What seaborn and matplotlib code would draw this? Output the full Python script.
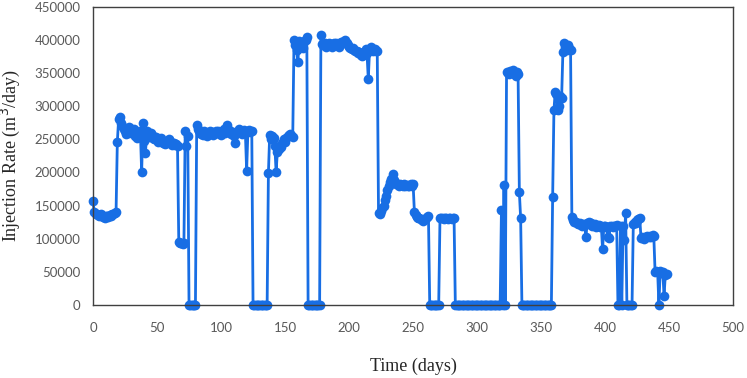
import numpy as np
import pandas as pd
import seaborn as sns
import matplotlib.pyplot as plt

# -------------------------------------------------
# DATA (daily injection rate, m3/day)
# -------------------------------------------------

rate = [
    157000, 140000, 137000, 138000, 136000, 135000, 137000, 134000, 133000, 132000,
    134000, 135000, 133000, 136000, 134000, 137000, 138000, 139000, 140000, 246000,
    280000, 283000, 275000, 270000, 265000, 262000, 258000, 260000, 268000, 263000,
    259000, 262000, 266000, 255000, 252000, 257000, 254000, 262000, 201000, 274000,
    248000, 230000, 262000, 258000, 254000, 260000, 256000, 252000, 250000, 254000,
    249000, 246000, 250000, 252000, 248000, 245000, 243000, 244000, 248000, 250000,
    247000, 245000, 242000, 244000, 241000, 243000, 240000, 95000, 93000, 94000,
    92000, 93000, 262000, 240000, 255000, 0, 0, 0, 0, 0,
    0, 272000, 265000, 262000, 258000, 260000, 256000, 262000, 259000, 255000,
    260000, 263000, 258000, 261000, 257000, 260000, 263000, 259000, 262000, 258000,
    256000, 262000, 265000, 260000, 266000, 272000, 264000, 262000, 258000, 261000,
    255000, 245000, 259000, 262000, 265000, 261000, 258000, 262000, 264000, 260000,
    203000, 262000, 264000, 261000, 263000, 0, 0, 0, 0, 0,
    0, 0, 0, 0, 0, 0, 0, 199000, 257000, 250000,
    255000, 252000, 240000, 201000, 231000, 236000, 240000, 239000, 245000, 250000,
    246000, 252000, 255000, 257000, 258000, 256000, 254000, 400000, 392000, 385000,
    366000, 398000, 390000, 395000, 388000, 398000, 400000, 405000, 0, 0,
    0, 0, 0, 0, 0, 0, 0, 0, 408000, 394000,
    392000, 395000, 390000, 393000, 396000, 392000, 394000, 390000, 395000, 392000,
    396000, 393000, 390000, 394000, 397000, 395000, 398000, 400000, 396000, 392000,
    390000, 388000, 386000, 388000, 385000, 383000, 384000, 380000, 382000, 378000,
    376000, 378000, 382000, 386000, 380000, 341000, 385000, 390000, 387000, 384000,
    386000, 383000, 384000, 139000, 138000, 142000, 146000, 150000, 158000, 165000,
    174000, 180000, 186000, 190000, 198000, 188000, 184000, 182000, 183000, 180000,
    182000, 181000, 179000, 182000, 180000, 181000, 179000, 180000, 182000, 180000,
    183000, 141000, 136000, 133000, 132000, 131000, 130000, 128000, 127000, 130000,
    132000, 133000, 134000, 0, 0, 0, 0, 0, 0, 0,
    0, 131000, 132000, 131000, 130000, 132000, 131000, 130000, 132000, 131000,
    130000, 132000, 131000, 0, 0, 0, 0, 0, 0, 0,
    0, 0, 0, 0, 0, 0, 0, 0, 0, 0,
    0, 0, 0, 0, 0, 0, 0, 0, 0, 0,
    0, 0, 0, 0, 0, 0, 0, 0, 0, 143000,
    0, 181000, 0, 352000, 350000, 348000, 353000, 351000, 355000, 349000,
    346000, 352000, 348000, 170000, 131000, 0, 0, 0, 0, 0,
    0, 0, 0, 0, 0, 0, 0, 0, 0, 0,
    0, 0, 0, 0, 0, 0, 0, 0, 0, 163500,
    294000, 322000, 318000, 295000, 300000, 315000, 312000, 382000, 395000, 390000,
    385000, 392000, 388000, 385000, 133000, 128000, 126000, 125000, 124000, 122000,
    124000, 121000, 120000, 122000, 121000, 103000, 124000, 125000, 123000, 124000,
    120000, 121000, 123000, 118000, 120000, 121000, 118000, 119000, 84000, 119000,
    120000, 118000, 103000, 101000, 119000, 120000, 118000, 119000, 120000, 121000,
    0, 0, 119000, 0, 120000, 98000, 139000, 0, 0, 0,
    0, 0, 123000, 125000, 124000, 128000, 130000, 132000, 101000, 102000,
    100000, 103000, 102000, 104000, 103000, 104000, 103000, 105000, 104000, 50000,
    52000, 50000, 0, 52000, 48000, 50000, 14000, 45000, 47000,
]
days = list(range(len(rate)))

x_ticks = list(range(0, 501, 50))
y_ticks = list(range(0, 450001, 50000))

df = pd.DataFrame({"Time": days, "Rate": rate})

# -------------------------------------------------
# PLOT
# -------------------------------------------------

sns.set_style("white")
plt.rcParams["font.family"] = ["Lato", "DejaVu Sans"]

fig = plt.figure(figsize=(7.47, 3.78), dpi=100)
ax = fig.add_axes([0.1245, 0.193, 0.857, 0.789])

line_color = "#186ee4"

sns.lineplot(
    data=df,
    x="Time",
    y="Rate",
    ax=ax,
    color=line_color,
    linewidth=2.0,
    marker="o",
    markersize=7,
    markeredgewidth=0,
    clip_on=False,
)

ax.set_xlim(0, 500)
ax.set_ylim(0, 450000)
ax.set_xticks(x_ticks)
ax.set_yticks(y_ticks)
ax.set_xticklabels([str(t) for t in x_ticks])
ax.set_yticklabels([str(t) for t in y_ticks])

ax.tick_params(axis="both", length=0, labelsize=9.5, labelcolor="#595959")
ax.tick_params(axis="x", pad=12)
ax.tick_params(axis="y", pad=9)

for s in ax.spines.values():
    s.set_visible(True)
    s.set_color("#404040")
    s.set_linewidth(1.0)

ax.set_xlabel("Time (days)", fontsize=13, family="Liberation Serif", labelpad=17)
ax.set_ylabel("Injection Rate (m$^3$/day)", fontsize=13, family="Liberation Serif", labelpad=9)

plt.savefig("out.png", dpi=100)
